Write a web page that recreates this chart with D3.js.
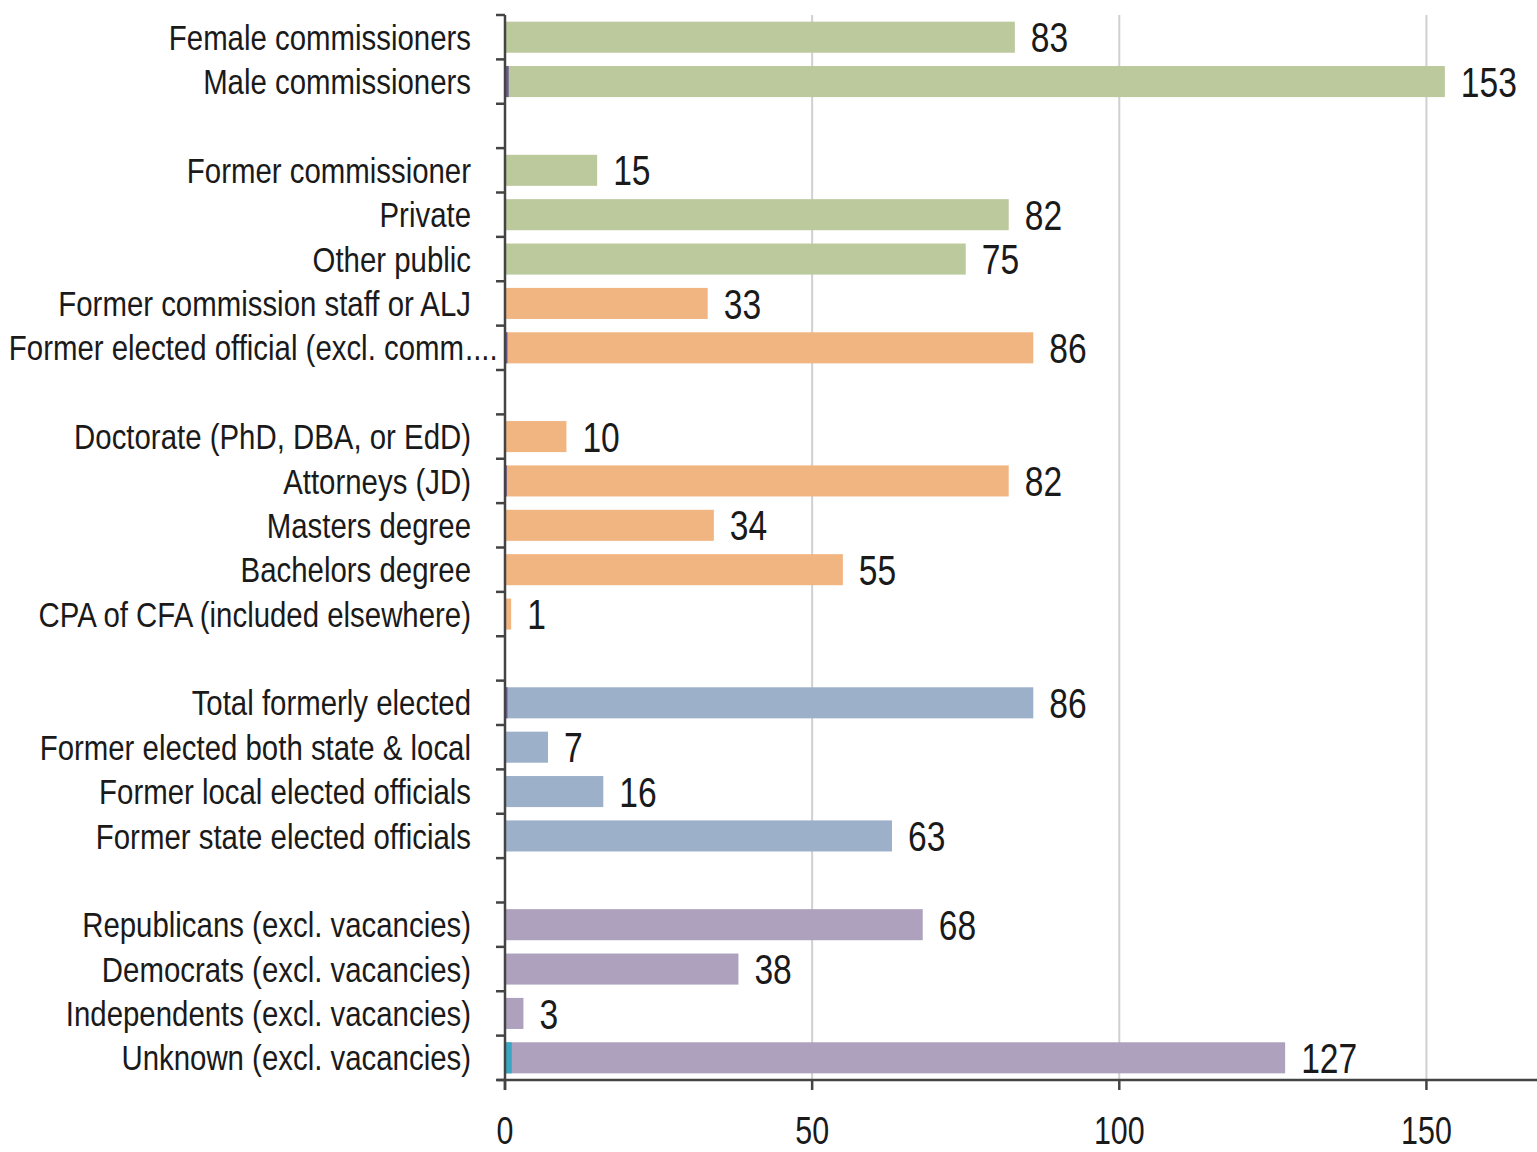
<!DOCTYPE html>
<html>
<head>
<meta charset="utf-8">
<script src="https://cdn.jsdelivr.net/npm/d3@7"></script>
<style>
  body { margin: 0; background: #fff; }
  text { font-family: "Liberation Sans", Arial, sans-serif; fill: #1a1a1a; }
</style>
</head>
<body>
<div id="chart"></div>
<script>
// rows top to bottom, "" = empty spacer row
const categories = [
  "Female commissioners", "Male commissioners", "",
  "Former commissioner", "Private", "Other public", "Former commission staff or ALJ", "Former elected official (excl. comm....", "",
  "Doctorate (PhD, DBA, or EdD)", "Attorneys (JD)", "Masters degree", "Bachelors degree", "CPA of CFA (included elsewhere)", "",
  "Total formerly elected", "Former elected both state & local", "Former local elected officials", "Former state elected officials", "",
  "Republicans (excl. vacancies)", "Democrats (excl. vacancies)", "Independents (excl. vacancies)", "Unknown (excl. vacancies)"
];
const values = [
  83, 153, null,
  15, 82, 75, 33, 86, null,
  10, 82, 34, 55, 1, null,
  86, 7, 16, 63, null,
  68, 38, 3, 127
];
const groups = [
  "g", "g", null,
  "g", "g", "g", "o", "o", null,
  "o", "o", "o", "o", "o", null,
  "b", "b", "b", "b", null,
  "p", "p", "p", "p"
];
// small secondary slivers at the start of some bars
const minorValues = [
  0, 0.6, 0,
  0, 0, 0, 0, 0.4, 0,
  0, 0.3, 0, 0, 0, 0,
  0.4, 0, 0, 0, 0,
  0, 0, 0, 1.1
];
const minorColors = { 1: "#6b5b8e", 7: "#6b5b8e", 10: "#6b5b8e", 15: "#6b5b8e", 23: "#3aa7c2" };
const xTicks = [0, 50, 100, 150];

const colors = { g: "#bbc99c", o: "#f1b582", b: "#9cb0c9", p: "#ada1bd" };

const rows = categories.map((c, i) => ({
  id: "r" + i, i, label: c, value: values[i], group: groups[i], minor: minorValues[i]
}));

const width = 1537, height = 1152;
const margin = { top: 15, right: 0, bottom: 72, left: 505 };

const svg = d3.select("#chart").append("svg")
  .attr("width", width)
  .attr("height", height);

const x = d3.scaleLinear()
  .domain([0, 168])
  .range([margin.left, width - margin.right]);

const y = d3.scaleBand()
  .domain(rows.map(d => d.id))
  .range([margin.top, height - margin.bottom])
  .paddingInner(0.3)
  .paddingOuter(0.15);

const bottom = height - margin.bottom;

// condensed text: plain sans squeezed horizontally
function narrowText(sel, sx, ty, tx) {
  return sel.append("g")
    .attr("transform", `translate(${tx},${ty}) scale(${sx},1)`)
    .append("text");
}

// grid
svg.append("g")
  .selectAll("line")
  .data(xTicks.filter(t => t > 0))
  .enter().append("line")
  .attr("x1", d => x(d)).attr("x2", d => x(d))
  .attr("y1", margin.top).attr("y2", bottom)
  .attr("stroke", "#d0d0d0")
  .attr("stroke-width", 2);

const bars = rows.filter(d => d.value != null);

svg.append("g")
  .selectAll("rect")
  .data(bars)
  .enter().append("rect")
  .attr("x", x(0))
  .attr("y", d => y(d.id))
  .attr("width", d => x(d.value) - x(0))
  .attr("height", y.bandwidth())
  .attr("fill", d => colors[d.group]);

svg.append("g")
  .selectAll("rect")
  .data(bars.filter(d => d.minor > 0))
  .enter().append("rect")
  .attr("x", x(0))
  .attr("y", d => y(d.id))
  .attr("width", d => x(d.minor) - x(0))
  .attr("height", y.bandwidth())
  .attr("fill", d => minorColors[d.i]);

// value labels
const valG = svg.append("g");
bars.forEach(d => {
  narrowText(valG, 0.8, y(d.id) + y.bandwidth() / 2, x(d.value) + 16)
    .attr("dy", "0.36em")
    .style("font-size", "42px")
    .text(d.value);
});

// y axis
const yAxis = svg.append("g")
  .attr("transform", `translate(${x(0)},0)`);

const step = y.step();
const bounds = d3.range(rows.length + 1).map(k => margin.top + k * step);

yAxis.append("line")
  .attr("x1", 0).attr("x2", 0)
  .attr("y1", margin.top).attr("y2", bottom + 10)
  .attr("stroke", "#444")
  .attr("stroke-width", 2.5);

yAxis.selectAll(".tk")
  .data(bounds)
  .enter().append("line")
  .attr("class", "tk")
  .attr("x1", -9).attr("x2", 0)
  .attr("y1", d => d).attr("y2", d => d)
  .attr("stroke", "#444")
  .attr("stroke-width", 2.5);

rows.filter(d => d.label).forEach(d => {
  const cy = y(d.id) + y.bandwidth() / 2;
  let main = d.label, tail = "";
  if (main.endsWith("....")) { tail = "...."; main = main.slice(0, -4); }
  narrowText(yAxis, 0.84, cy, tail ? -41 : -34)
    .attr("dy", "0.36em")
    .attr("text-anchor", "end")
    .style("font-size", "35px")
    .text(main);
  if (tail) {
    narrowText(yAxis, 0.84, cy, -40)
      .attr("dy", "0.36em")
      .style("font-size", "35px")
      .text(tail);
  }
});

// x axis
const xAxis = svg.append("g")
  .attr("transform", `translate(0,${bottom})`);

xAxis.append("line")
  .attr("x1", x(0) - 8).attr("x2", width)
  .attr("y1", 0).attr("y2", 0)
  .attr("stroke", "#444")
  .attr("stroke-width", 2.5);

xAxis.selectAll(".tk")
  .data(xTicks)
  .enter().append("line")
  .attr("class", "tk")
  .attr("x1", d => x(d)).attr("x2", d => x(d))
  .attr("y1", 0).attr("y2", 10)
  .attr("stroke", "#444")
  .attr("stroke-width", 2.5);

xTicks.forEach(t => {
  narrowText(xAxis, 0.78, 50, x(t))
    .attr("dy", "0.36em")
    .attr("text-anchor", "middle")
    .style("font-size", "39px")
    .text(t);
});
</script>
</body>
</html>
